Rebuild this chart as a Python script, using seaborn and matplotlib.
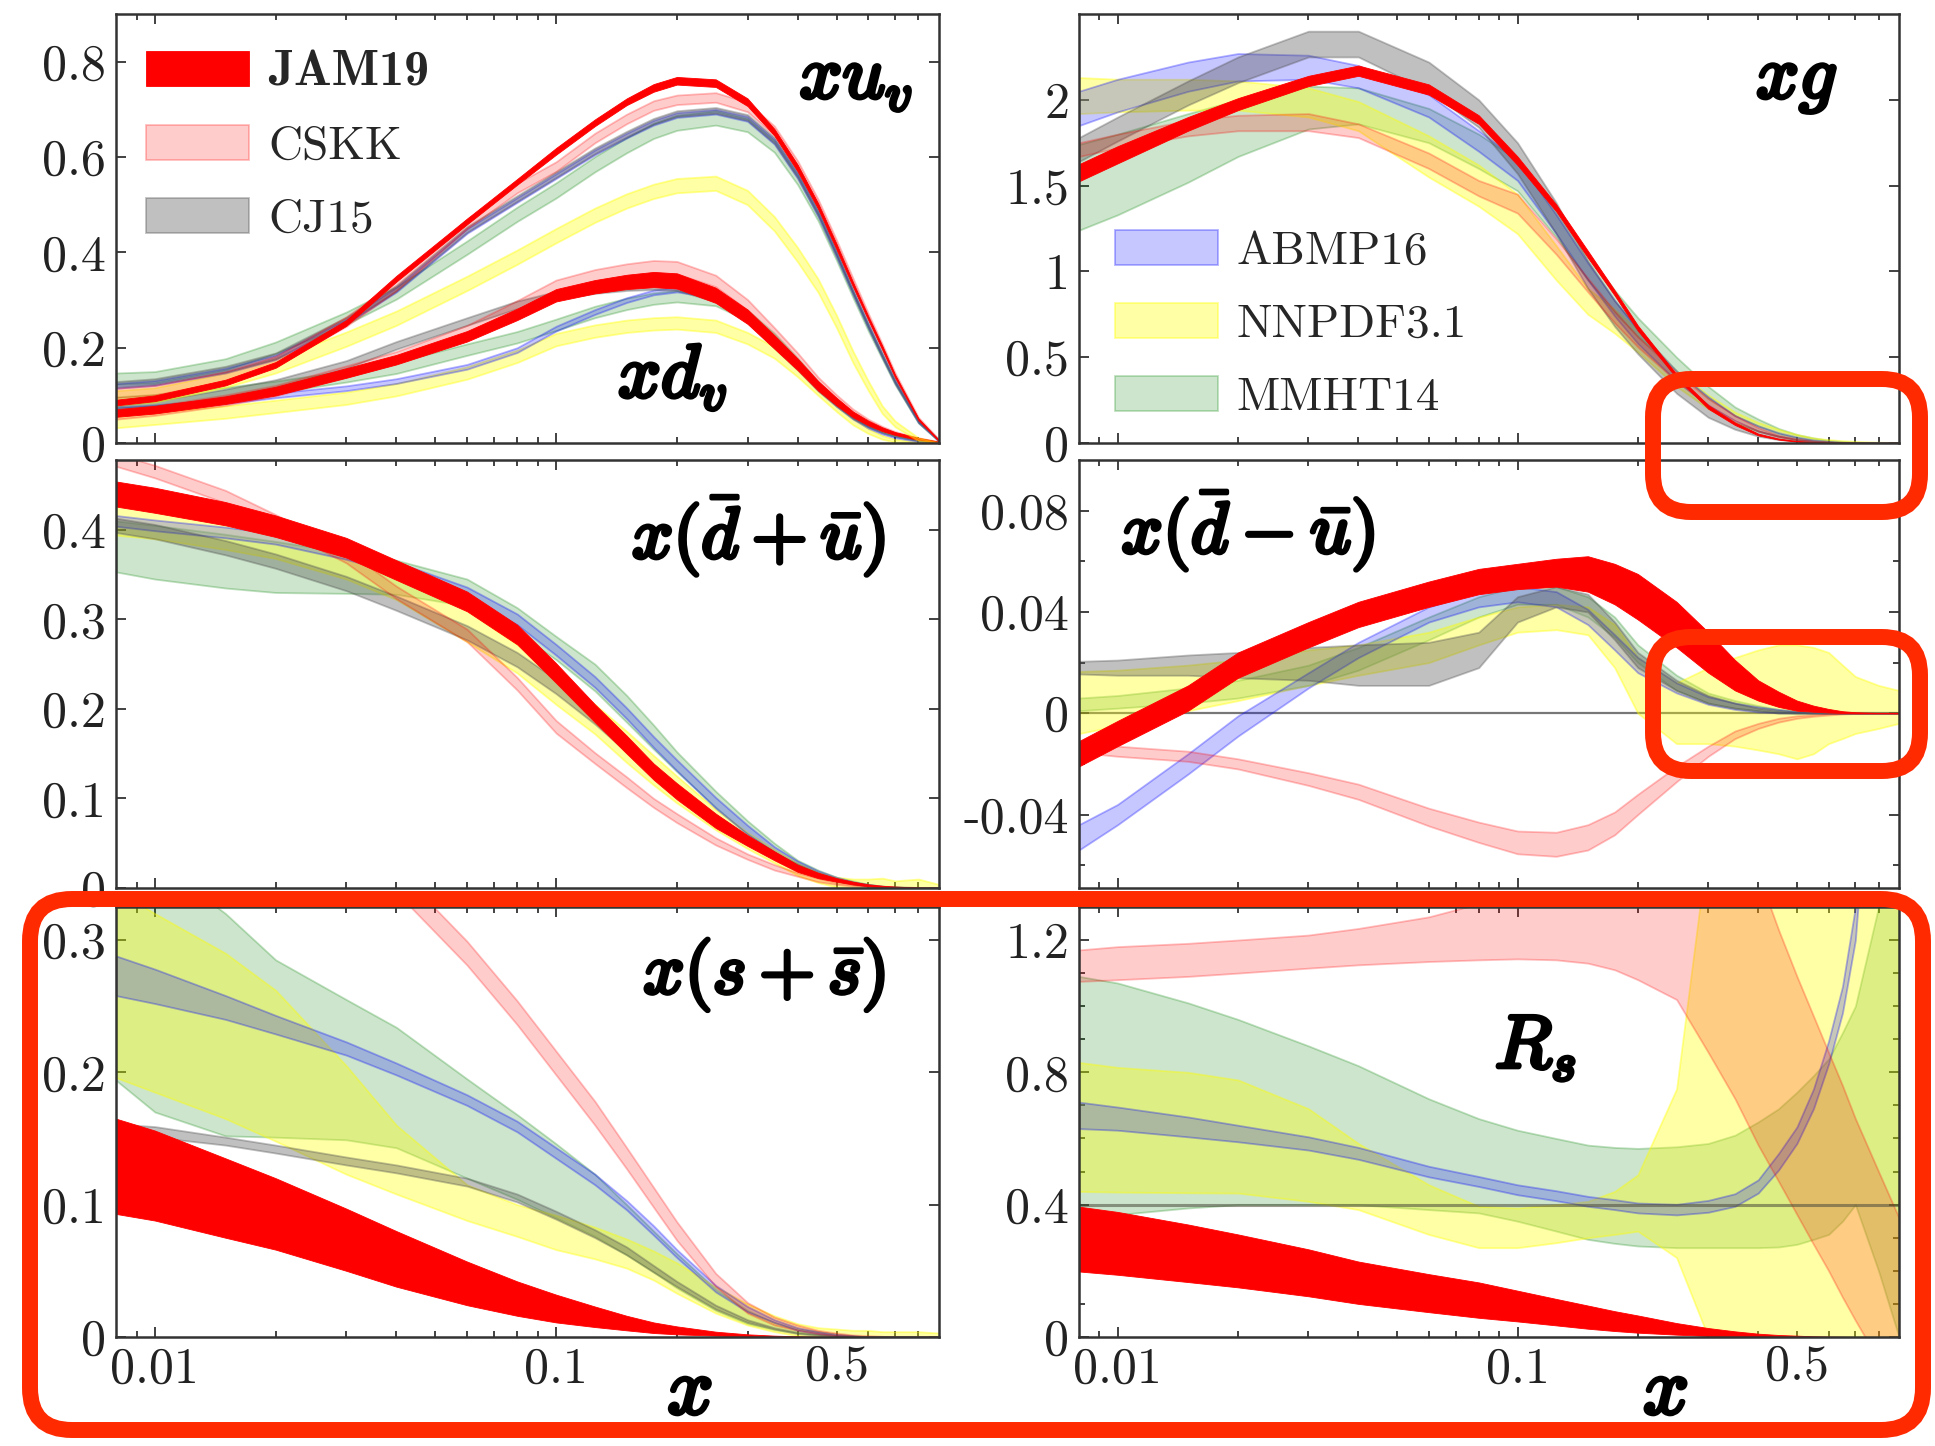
import matplotlib
matplotlib.use("Agg")
import matplotlib.pyplot as plt
import matplotlib.patheffects as pe
from matplotlib.patches import FancyBboxPatch
from matplotlib.ticker import FixedLocator, NullLocator, FuncFormatter
import seaborn as sns

# x grid shared by every panel
X = [0.008, 0.01, 0.015, 0.02, 0.03, 0.04, 0.06, 0.08, 0.1, 0.125, 0.15, 0.175, 0.2,
     0.25, 0.3, 0.35, 0.4, 0.45, 0.5, 0.55, 0.6, 0.65, 0.7, 0.8, 0.9]

# ---- x u_v ----
uv_JAM19_lo = [0.079, 0.088, 0.121, 0.158, 0.246, 0.339, 0.459, 0.542, 0.605, 0.665, 0.709, 0.737, 0.752, 0.747, 0.707, 0.645, 0.57, 0.491, 0.406, 0.327, 0.258, 0.196, 0.137, 0.048, 0.004]
uv_JAM19_hi = [0.091, 0.1, 0.133, 0.17, 0.258, 0.351, 0.471, 0.554, 0.619, 0.679, 0.723, 0.753, 0.768, 0.763, 0.723, 0.659, 0.584, 0.503, 0.418, 0.337, 0.266, 0.204, 0.143, 0.052, 0.006]
uv_CSKK_lo = [0.095, 0.101, 0.13, 0.162, 0.245, 0.32, 0.45, 0.525, 0.57, 0.63, 0.67, 0.698, 0.71, 0.715, 0.695, 0.645, 0.572, 0.493, 0.41, 0.331, 0.26, 0.198, 0.139, 0.05, 0.004]
uv_CSKK_hi = [0.115, 0.121, 0.15, 0.182, 0.265, 0.34, 0.47, 0.545, 0.59, 0.65, 0.69, 0.718, 0.73, 0.735, 0.715, 0.665, 0.592, 0.511, 0.426, 0.345, 0.272, 0.208, 0.147, 0.054, 0.008]
uv_CJ15_lo = [0.117, 0.123, 0.149, 0.177, 0.252, 0.319, 0.442, 0.507, 0.557, 0.607, 0.642, 0.669, 0.685, 0.692, 0.677, 0.629, 0.557, 0.477, 0.392, 0.312, 0.242, 0.18, 0.125, 0.043, 0.004]
uv_CJ15_hi = [0.129, 0.135, 0.161, 0.189, 0.264, 0.331, 0.454, 0.519, 0.569, 0.619, 0.654, 0.681, 0.697, 0.704, 0.689, 0.641, 0.569, 0.489, 0.404, 0.322, 0.252, 0.19, 0.133, 0.049, 0.006]
uv_ABMP16_lo = [0.115, 0.121, 0.147, 0.175, 0.25, 0.317, 0.44, 0.505, 0.555, 0.605, 0.64, 0.667, 0.683, 0.69, 0.675, 0.627, 0.555, 0.475, 0.39, 0.311, 0.241, 0.18, 0.125, 0.043, 0.004]
uv_ABMP16_hi = [0.125, 0.131, 0.157, 0.185, 0.26, 0.327, 0.45, 0.515, 0.565, 0.615, 0.65, 0.677, 0.693, 0.70, 0.685, 0.637, 0.565, 0.485, 0.40, 0.319, 0.249, 0.186, 0.131, 0.047, 0.006]
uv_NNPDF_lo = [0.08, 0.086, 0.117, 0.147, 0.203, 0.247, 0.32, 0.375, 0.42, 0.463, 0.493, 0.513, 0.525, 0.53, 0.5, 0.445, 0.38, 0.316, 0.242, 0.168, 0.11, 0.062, 0.034, 0.005, 0.0]
uv_NNPDF_hi = [0.11, 0.116, 0.147, 0.177, 0.233, 0.277, 0.35, 0.405, 0.45, 0.493, 0.523, 0.543, 0.555, 0.56, 0.53, 0.475, 0.41, 0.344, 0.268, 0.192, 0.13, 0.078, 0.046, 0.011, 0.001]
uv_MMHT14_lo = [0.123, 0.126, 0.153, 0.188, 0.249, 0.302, 0.396, 0.465, 0.514, 0.569, 0.609, 0.639, 0.656, 0.667, 0.653, 0.61, 0.542, 0.466, 0.383, 0.304, 0.235, 0.176, 0.122, 0.042, 0.004]
uv_MMHT14_hi = [0.147, 0.15, 0.177, 0.212, 0.275, 0.328, 0.424, 0.495, 0.546, 0.601, 0.641, 0.671, 0.688, 0.697, 0.681, 0.634, 0.562, 0.482, 0.397, 0.316, 0.245, 0.184, 0.128, 0.046, 0.006]

# ---- x d_v ----
dv_JAM19_lo = [0.055, 0.062, 0.082, 0.1, 0.137, 0.165, 0.213, 0.258, 0.297, 0.314, 0.323, 0.327, 0.324, 0.294, 0.25, 0.198, 0.153, 0.11, 0.079, 0.054, 0.037, 0.025, 0.017, 0.007, 0.001]
dv_JAM19_hi = [0.071, 0.078, 0.098, 0.118, 0.157, 0.185, 0.235, 0.282, 0.323, 0.342, 0.353, 0.359, 0.356, 0.326, 0.28, 0.226, 0.177, 0.13, 0.095, 0.066, 0.047, 0.033, 0.023, 0.011, 0.003]
dv_CSKK_lo = [0.05, 0.058, 0.079, 0.099, 0.138, 0.168, 0.223, 0.275, 0.318, 0.34, 0.352, 0.357, 0.355, 0.328, 0.279, 0.222, 0.171, 0.122, 0.087, 0.059, 0.04, 0.027, 0.018, 0.007, 0.001]
dv_CSKK_hi = [0.07, 0.078, 0.101, 0.121, 0.162, 0.192, 0.247, 0.299, 0.342, 0.364, 0.376, 0.383, 0.381, 0.352, 0.301, 0.242, 0.189, 0.138, 0.101, 0.071, 0.05, 0.035, 0.024, 0.011, 0.003]
dv_CJ15_lo = [0.062, 0.072, 0.097, 0.117, 0.157, 0.197, 0.247, 0.282, 0.302, 0.314, 0.32, 0.322, 0.32, 0.297, 0.253, 0.199, 0.153, 0.109, 0.077, 0.051, 0.034, 0.022, 0.014, 0.005, 0.0]
dv_CJ15_hi = [0.078, 0.088, 0.113, 0.133, 0.173, 0.213, 0.263, 0.298, 0.318, 0.33, 0.336, 0.338, 0.336, 0.313, 0.267, 0.211, 0.163, 0.117, 0.083, 0.057, 0.038, 0.026, 0.018, 0.007, 0.002]
dv_ABMP16_lo = [0.065, 0.07, 0.083, 0.095, 0.11, 0.125, 0.155, 0.19, 0.235, 0.27, 0.295, 0.311, 0.317, 0.305, 0.265, 0.21, 0.158, 0.111, 0.077, 0.05, 0.031, 0.019, 0.011, 0.003, 0.0]
dv_ABMP16_hi = [0.075, 0.08, 0.093, 0.105, 0.12, 0.135, 0.165, 0.2, 0.245, 0.28, 0.305, 0.321, 0.327, 0.315, 0.275, 0.22, 0.166, 0.119, 0.083, 0.054, 0.035, 0.021, 0.013, 0.005, 0.002]
dv_NNPDF_lo = [0.032, 0.039, 0.052, 0.064, 0.081, 0.099, 0.134, 0.169, 0.204, 0.222, 0.232, 0.237, 0.239, 0.232, 0.208, 0.178, 0.139, 0.1, 0.066, 0.038, 0.02, 0.008, 0.002, 0.0, 0.0]
dv_NNPDF_hi = [0.058, 0.065, 0.078, 0.09, 0.107, 0.125, 0.16, 0.195, 0.23, 0.248, 0.258, 0.263, 0.265, 0.258, 0.232, 0.202, 0.161, 0.12, 0.084, 0.052, 0.03, 0.016, 0.008, 0.002, 0.0]
dv_MMHT14_lo = [0.073, 0.078, 0.093, 0.106, 0.128, 0.146, 0.184, 0.21, 0.236, 0.263, 0.28, 0.291, 0.296, 0.288, 0.257, 0.21, 0.162, 0.115, 0.08, 0.053, 0.034, 0.022, 0.014, 0.005, 0.0]
dv_MMHT14_hi = [0.097, 0.102, 0.117, 0.13, 0.152, 0.17, 0.208, 0.234, 0.26, 0.287, 0.304, 0.315, 0.32, 0.312, 0.279, 0.23, 0.178, 0.129, 0.092, 0.063, 0.042, 0.028, 0.018, 0.007, 0.002]

# ---- x g ----
g_JAM19_lo = [1.525, 1.63, 1.82, 1.94, 2.08, 2.14, 2.03, 1.86, 1.62, 1.35, 1.08, 0.86, 0.655, 0.38, 0.2, 0.105, 0.045, 0.02, 0.008, 0.003, 0.001, 0.0, 0.0, 0.0, 0.0]
g_JAM19_hi = [1.625, 1.73, 1.9, 2.01, 2.14, 2.2, 2.09, 1.91, 1.67, 1.39, 1.12, 0.89, 0.685, 0.4, 0.22, 0.12, 0.055, 0.026, 0.012, 0.005, 0.003, 0.0015, 0.001, 0.0, 0.0]
g_CSKK_lo = [1.67, 1.72, 1.79, 1.82, 1.82, 1.78, 1.6, 1.44, 1.34, 1.1, 0.88, 0.7, 0.56, 0.36, 0.22, 0.13, 0.07, 0.035, 0.018, 0.008, 0.004, 0.001, 0.0, 0.0, 0.0]
g_CSKK_hi = [1.75, 1.8, 1.88, 1.91, 1.92, 1.86, 1.69, 1.53, 1.45, 1.19, 0.96, 0.77, 0.62, 0.41, 0.26, 0.16, 0.09, 0.045, 0.025, 0.012, 0.006, 0.003, 0.001, 0.0, 0.0]
g_CJ15_lo = [1.64, 1.76, 1.97, 2.1, 2.25, 2.25, 2.05, 1.84, 1.57, 1.22, 0.9, 0.68, 0.52, 0.29, 0.15, 0.08, 0.04, 0.02, 0.01, 0.004, 0.001, 0.0, 0.0, 0.0, 0.0]
g_CJ15_hi = [1.78, 1.9, 2.11, 2.25, 2.4, 2.4, 2.22, 2.0, 1.75, 1.4, 1.06, 0.83, 0.67, 0.38, 0.22, 0.12, 0.07, 0.04, 0.02, 0.01, 0.005, 0.002, 0.001, 0.0, 0.0]
g_ABMP16_lo = [1.85, 1.93, 2.05, 2.11, 2.12, 2.07, 1.9, 1.7, 1.53, 1.22, 0.95, 0.74, 0.58, 0.36, 0.22, 0.13, 0.07, 0.04, 0.02, 0.01, 0.005, 0.002, 0.001, 0.0, 0.0]
g_ABMP16_hi = [2.05, 2.12, 2.22, 2.27, 2.26, 2.2, 2.03, 1.82, 1.65, 1.33, 1.05, 0.83, 0.66, 0.42, 0.27, 0.16, 0.1, 0.06, 0.035, 0.018, 0.01, 0.005, 0.003, 0.001, 0.0]
g_NNPDF_lo = [1.92, 1.93, 1.94, 1.94, 1.9, 1.82, 1.55, 1.38, 1.22, 0.95, 0.75, 0.64, 0.53, 0.33, 0.2, 0.12, 0.07, 0.04, 0.02, 0.01, 0.005, 0.002, 0.0, 0.0, 0.0]
g_NNPDF_hi = [2.13, 2.12, 2.12, 2.11, 2.07, 1.99, 1.79, 1.62, 1.45, 1.15, 0.9, 0.78, 0.66, 0.42, 0.28, 0.18, 0.12, 0.08, 0.05, 0.03, 0.02, 0.014, 0.01, 0.005, 0.003]
g_MMHT14_lo = [1.24, 1.33, 1.52, 1.67, 1.83, 1.86, 1.75, 1.6, 1.47, 1.2, 0.95, 0.76, 0.62, 0.42, 0.26, 0.16, 0.1, 0.055, 0.03, 0.016, 0.008, 0.004, 0.002, 0.0, 0.0]
g_MMHT14_hi = [1.74, 1.8, 1.92, 2.0, 2.08, 2.07, 1.95, 1.8, 1.65, 1.37, 1.1, 0.89, 0.73, 0.5, 0.33, 0.21, 0.14, 0.085, 0.05, 0.03, 0.016, 0.009, 0.005, 0.001, 0.0]

# ---- x(dbar + ubar) ----
sea_JAM19_lo = [0.426, 0.419, 0.405, 0.392, 0.369, 0.344, 0.309, 0.272, 0.229, 0.185, 0.15, 0.121, 0.099, 0.067, 0.047, 0.031, 0.018, 0.011, 0.007, 0.004, 0.002, 0.001, 0.0005, 0.0, 0.0]
sea_JAM19_hi = [0.454, 0.447, 0.431, 0.416, 0.391, 0.366, 0.331, 0.294, 0.251, 0.205, 0.17, 0.139, 0.117, 0.083, 0.059, 0.041, 0.026, 0.017, 0.011, 0.007, 0.004, 0.0025, 0.0015, 0.0006, 0.0002]
sea_CSKK_lo = [0.471, 0.458, 0.43, 0.403, 0.363, 0.323, 0.275, 0.221, 0.173, 0.139, 0.112, 0.09, 0.073, 0.048, 0.032, 0.02, 0.013, 0.007, 0.004, 0.002, 0.001, 0.0, 0.0, 0.0, 0.0]
sea_CSKK_hi = [0.485, 0.472, 0.444, 0.417, 0.377, 0.337, 0.289, 0.235, 0.187, 0.151, 0.124, 0.1, 0.083, 0.056, 0.038, 0.026, 0.017, 0.011, 0.006, 0.004, 0.002, 0.0015, 0.001, 0.0, 0.0]
sea_CJ15_lo = [0.397, 0.39, 0.372, 0.357, 0.332, 0.31, 0.277, 0.247, 0.217, 0.183, 0.152, 0.127, 0.105, 0.074, 0.051, 0.035, 0.023, 0.013, 0.008, 0.004, 0.002, 0.001, 0.0, 0.0, 0.0]
sea_CJ15_hi = [0.413, 0.406, 0.388, 0.373, 0.348, 0.326, 0.293, 0.263, 0.233, 0.197, 0.164, 0.137, 0.115, 0.082, 0.057, 0.039, 0.027, 0.017, 0.01, 0.006, 0.004, 0.002, 0.0015, 0.0005, 0.0]
sea_ABMP16_lo = [0.404, 0.399, 0.391, 0.384, 0.367, 0.352, 0.324, 0.294, 0.26, 0.224, 0.189, 0.157, 0.131, 0.089, 0.06, 0.04, 0.024, 0.015, 0.009, 0.005, 0.002, 0.001, 0.0, 0.0, 0.0]
sea_ABMP16_hi = [0.416, 0.411, 0.403, 0.396, 0.379, 0.364, 0.336, 0.306, 0.272, 0.236, 0.201, 0.169, 0.143, 0.101, 0.07, 0.046, 0.03, 0.019, 0.012, 0.007, 0.004, 0.002, 0.001, 0.0, 0.0]
sea_NNPDF_lo = [0.394, 0.39, 0.378, 0.368, 0.345, 0.322, 0.275, 0.24, 0.205, 0.172, 0.14, 0.115, 0.095, 0.065, 0.044, 0.028, 0.014, 0.006, 0.001, 0.0, 0.0, 0.0, 0.0, 0.0, 0.0]
sea_NNPDF_hi = [0.432, 0.426, 0.412, 0.4, 0.378, 0.355, 0.31, 0.272, 0.238, 0.205, 0.175, 0.148, 0.125, 0.088, 0.062, 0.043, 0.028, 0.018, 0.012, 0.01, 0.01, 0.011, 0.008, 0.01, 0.004]
sea_MMHT14_lo = [0.353, 0.345, 0.335, 0.33, 0.329, 0.328, 0.315, 0.285, 0.255, 0.22, 0.185, 0.155, 0.13, 0.09, 0.06, 0.04, 0.024, 0.014, 0.008, 0.005, 0.002, 0.001, 0.0, 0.0, 0.0]
sea_MMHT14_hi = [0.41, 0.405, 0.395, 0.387, 0.375, 0.366, 0.345, 0.313, 0.281, 0.25, 0.215, 0.182, 0.152, 0.108, 0.075, 0.05, 0.031, 0.02, 0.012, 0.008, 0.004, 0.002, 0.001, 0.0, 0.0]

# ---- x(dbar - ubar) ----
asym_JAM19_lo = [-0.021, -0.013, 0.001, 0.014, 0.026, 0.034, 0.042, 0.047, 0.049, 0.05, 0.048, 0.043, 0.037, 0.026, 0.016, 0.009, 0.005, 0.0025, 0.001, 0.0006, 0.0003, 0.0001, 0.0, 0.0, 0.0]
asym_JAM19_hi = [-0.011, -0.003, 0.011, 0.024, 0.036, 0.044, 0.052, 0.057, 0.059, 0.061, 0.062, 0.059, 0.055, 0.044, 0.032, 0.021, 0.013, 0.0085, 0.005, 0.003, 0.0017, 0.0008, 0.0004, 0.0001, 0.0]
asym_CSKK_lo = [-0.0155, -0.017, -0.019, -0.022, -0.0285, -0.034, -0.0445, -0.051, -0.0555, -0.0565, -0.054, -0.048, -0.04, -0.027, -0.017, -0.01, -0.006, -0.0035, -0.002, -0.0012, -0.0007, -0.0003, -0.0001, 0.0, 0.0]
asym_CSKK_hi = [-0.0125, -0.013, -0.015, -0.018, -0.0235, -0.028, -0.0375, -0.043, -0.0465, -0.047, -0.044, -0.039, -0.032, -0.021, -0.013, -0.007, -0.004, -0.002, -0.001, -0.0006, -0.0003, -0.0001, -0.0001, 0.0, 0.0]
asym_CJ15_lo = [0.0155, 0.015, 0.015, 0.014, 0.013, 0.011, 0.011, 0.018, 0.036, 0.042, 0.04, 0.029, 0.018, 0.009, 0.004, 0.002, 0.001, 0.0, 0.0, 0.0, 0.0, 0.0, 0.0, 0.0, 0.0]
asym_CJ15_hi = [0.0205, 0.021, 0.023, 0.024, 0.026, 0.027, 0.028, 0.032, 0.046, 0.05, 0.047, 0.036, 0.024, 0.013, 0.007, 0.004, 0.002, 0.001, 0.0005, 0.0, 0.0, 0.0, 0.0, 0.0, 0.0]
asym_ABMP16_lo = [-0.054, -0.044, -0.024, -0.009, 0.01, 0.022, 0.036, 0.042, 0.044, 0.042, 0.035, 0.025, 0.016, 0.008, 0.0035, 0.0015, 0.0005, 0.0002, 0.0001, 0.0, 0.0, 0.0, 0.0, 0.0, 0.0]
asym_ABMP16_hi = [-0.044, -0.036, -0.016, -0.001, 0.016, 0.028, 0.042, 0.048, 0.05, 0.048, 0.041, 0.031, 0.022, 0.012, 0.0065, 0.004, 0.0025, 0.0015, 0.0007, 0.0003, 0.0, 0.0, 0.0, 0.0, 0.0]
asym_NNPDF_lo = [-0.008, -0.005, 0.001, 0.005, 0.011, 0.015, 0.02, 0.027, 0.032, 0.033, 0.031, 0.018, 0.0, -0.012, -0.012, -0.013, -0.0145, -0.016, -0.018, -0.016, -0.012, -0.01, -0.008, -0.006, -0.004]
asym_NNPDF_hi = [0.0165, 0.017, 0.019, 0.021, 0.025, 0.027, 0.032, 0.038, 0.042, 0.043, 0.042, 0.035, 0.022, 0.012, 0.018, 0.022, 0.025, 0.027, 0.027, 0.026, 0.024, 0.019, 0.0145, 0.011, 0.009]
asym_MMHT14_lo = [0.001, 0.002, 0.004, 0.006, 0.011, 0.017, 0.029, 0.038, 0.043, 0.043, 0.038, 0.03, 0.02, 0.009, 0.004, 0.002, 0.001, 0.0005, 0.0, 0.0, 0.0, 0.0, 0.0, 0.0, 0.0]
asym_MMHT14_hi = [0.006, 0.007, 0.01, 0.013, 0.019, 0.026, 0.038, 0.046, 0.05, 0.05, 0.046, 0.038, 0.027, 0.015, 0.008, 0.005, 0.003, 0.0015, 0.001, 0.0005, 0.0, 0.0, 0.0, 0.0, 0.0]

# ---- x(s + sbar) ----
s_JAM19_lo = [0.093, 0.088, 0.075, 0.066, 0.05, 0.038, 0.024, 0.016, 0.011, 0.0075, 0.005, 0.003, 0.002, 0.001, 0.0003, 0.0001, 0.0, 0.0, 0.0, 0.0, 0.0, 0.0, 0.0, 0.0, 0.0]
s_JAM19_hi = [0.165, 0.156, 0.135, 0.12, 0.097, 0.08, 0.057, 0.042, 0.032, 0.023, 0.016, 0.011, 0.008, 0.004, 0.002, 0.001, 0.0005, 0.0002, 0.0001, 0.0, 0.0, 0.0, 0.0, 0.0, 0.0]
s_CSKK_lo = [0.511, 0.491, 0.451, 0.421, 0.376, 0.336, 0.281, 0.236, 0.198, 0.16, 0.127, 0.098, 0.073, 0.038, 0.018, 0.009, 0.005, 0.0025, 0.001, 0.0005, 0.0, 0.0, 0.0, 0.0, 0.0]
s_CSKK_hi = [0.529, 0.509, 0.469, 0.439, 0.394, 0.354, 0.299, 0.254, 0.216, 0.178, 0.143, 0.113, 0.087, 0.048, 0.026, 0.015, 0.009, 0.005, 0.003, 0.0015, 0.001, 0.0005, 0.0, 0.0, 0.0]
s_CJ15_lo = [0.153, 0.151, 0.145, 0.139, 0.130, 0.124, 0.114, 0.102, 0.089, 0.075, 0.062, 0.049, 0.038, 0.021, 0.011, 0.006, 0.0025, 0.0012, 0.0005, 0.0002, 0.0, 0.0, 0.0, 0.0, 0.0]
s_CJ15_hi = [0.161, 0.159, 0.151, 0.145, 0.136, 0.130, 0.120, 0.108, 0.095, 0.081, 0.068, 0.054, 0.042, 0.024, 0.013, 0.007, 0.0035, 0.002, 0.001, 0.0005, 0.0, 0.0, 0.0, 0.0, 0.0]
s_ABMP16_lo = [0.258, 0.252, 0.24, 0.229, 0.213, 0.198, 0.175, 0.155, 0.135, 0.115, 0.096, 0.077, 0.06, 0.034, 0.019, 0.011, 0.005, 0.0025, 0.001, 0.0005, 0.0, 0.0, 0.0, 0.0, 0.0]
s_ABMP16_hi = [0.288, 0.278, 0.258, 0.243, 0.223, 0.207, 0.183, 0.163, 0.143, 0.123, 0.103, 0.084, 0.066, 0.039, 0.023, 0.013, 0.007, 0.004, 0.002, 0.001, 0.0, 0.0, 0.0, 0.0, 0.0]
s_NNPDF_lo = [0.196, 0.185, 0.165, 0.148, 0.123, 0.108, 0.088, 0.076, 0.066, 0.059, 0.052, 0.043, 0.033, 0.018, 0.009, 0.004, 0.001, 0.0, -0.001, 0.0, 0.0, 0.0, 0.0, 0.0, 0.0]
s_NNPDF_hi = [0.338, 0.32, 0.29, 0.262, 0.205, 0.16, 0.115, 0.1, 0.092, 0.083, 0.074, 0.065, 0.056, 0.038, 0.025, 0.016, 0.01, 0.007, 0.006, 0.005, 0.005, 0.004, 0.004, 0.004, 0.003]
s_MMHT14_lo = [0.194, 0.17, 0.152, 0.151, 0.149, 0.143, 0.12, 0.104, 0.09, 0.076, 0.062, 0.049, 0.037, 0.02, 0.01, 0.0055, 0.003, 0.0015, 0.0005, 0.0, 0.0, 0.0, 0.0, 0.0, 0.0]
s_MMHT14_hi = [0.38, 0.36, 0.32, 0.285, 0.255, 0.234, 0.195, 0.168, 0.146, 0.123, 0.1, 0.08, 0.063, 0.036, 0.02, 0.011, 0.006, 0.004, 0.002, 0.001, 0.0, 0.0, 0.0, 0.0, 0.0]

# ---- R_s ----
rs_JAM19_lo = [0.198, 0.188, 0.166, 0.15, 0.123, 0.1, 0.075, 0.058, 0.047, 0.035, 0.025, 0.018, 0.013, 0.007, 0.003, 0.002, 0.001, 0.0005, 0.0, 0.0, 0.0, 0.0, 0.0, 0.0, 0.0]
rs_JAM19_hi = [0.394, 0.378, 0.34, 0.31, 0.265, 0.228, 0.19, 0.165, 0.14, 0.115, 0.095, 0.078, 0.065, 0.042, 0.027, 0.017, 0.01, 0.006, 0.004, 0.002, 0.001, 0.0005, 0.0, 0.0, 0.0]
rs_CSKK_lo = [1.075, 1.08, 1.09, 1.1, 1.115, 1.125, 1.135, 1.14, 1.143, 1.14, 1.13, 1.11, 1.08, 1.02, 0.86, 0.72, 0.58, 0.47, 0.37, 0.28, 0.2, 0.12, 0.05, -0.07, -0.2]
rs_CSKK_hi = [1.17, 1.18, 1.19, 1.2, 1.215, 1.235, 1.27, 1.31, 1.37, 1.47, 1.6, 1.7, 1.8, 1.9, 1.9, 1.7, 1.4, 1.23, 1.09, 0.97, 0.86, 0.76, 0.66, 0.5, 0.36]
rs_CJ15 = [0.4, 0.4, 0.4, 0.4, 0.4, 0.4, 0.4, 0.4, 0.4, 0.4, 0.4, 0.4, 0.4,
           0.4, 0.4, 0.4, 0.4, 0.4, 0.4, 0.4, 0.4, 0.4, 0.4, 0.4, 0.4]
rs_ABMP16_lo = [0.63, 0.625, 0.605, 0.59, 0.565, 0.537, 0.484, 0.455, 0.43, 0.412, 0.395, 0.385, 0.375, 0.369, 0.377, 0.395, 0.435, 0.505, 0.585, 0.69, 0.825, 0.98, 1.2, 2.1, 2.9]
rs_ABMP16_hi = [0.71, 0.695, 0.665, 0.64, 0.605, 0.573, 0.516, 0.485, 0.46, 0.442, 0.425, 0.415, 0.405, 0.401, 0.413, 0.433, 0.475, 0.555, 0.635, 0.75, 0.895, 1.06, 1.3, 2.3, 3.1]
rs_NNPDF_lo = [0.44, 0.438, 0.436, 0.435, 0.41, 0.385, 0.31, 0.27, 0.27, 0.285, 0.3, 0.31, 0.32, 0.24, 0.0, 0.0, 0.0, 0.0, 0.0, 0.0, 0.0, 0.0, 0.0, 0.0, 0.0]
rs_NNPDF_hi = [0.83, 0.815, 0.8, 0.777, 0.69, 0.585, 0.46, 0.395, 0.39, 0.4, 0.41, 0.44, 0.49, 0.75, 1.5, 1.5, 1.5, 1.5, 1.5, 1.5, 1.5, 1.5, 1.5, 1.5, 1.5]
rs_MMHT14_lo = [0.36, 0.37, 0.39, 0.4, 0.4, 0.4, 0.385, 0.375, 0.35, 0.32, 0.295, 0.283, 0.275, 0.27, 0.27, 0.27, 0.27, 0.272, 0.28, 0.295, 0.31, 0.35, 0.4, 0.2, 0.0]
rs_MMHT14_hi = [1.09, 1.07, 1.01, 0.96, 0.88, 0.82, 0.72, 0.66, 0.625, 0.6, 0.58, 0.573, 0.57, 0.575, 0.585, 0.61, 0.65, 0.69, 0.74, 0.79, 0.84, 0.92, 1.0, 1.3, 1.5]

# colours: (rgb, face alpha, edge alpha)
STYLE = {
    "MMHT14": ((0.0, 0.5, 0.0), 0.2, 0.25),
    "NNPDF3.1": ((1.0, 1.0, 0.0), 0.35, 0.4),
    "ABMP16": ((0.0, 0.0, 1.0), 0.22, 0.3),
    "CJ15": ((0.3, 0.3, 0.3), 0.35, 0.35),
    "CSKK": ((1.0, 0.0, 0.0), 0.2, 0.25),
    "JAM19": ((1.0, 0.0, 0.0), 1.0, 1.0),
}

sns.set_theme(style="ticks")
plt.rcParams["font.family"] = "cmr10"
plt.rcParams["mathtext.fontset"] = "cm"
plt.rcParams["axes.unicode_minus"] = False
plt.rcParams["axes.formatter.use_mathtext"] = True

fig = plt.figure(figsize=(19.35, 14.46), dpi=100)
fig.patch.set_facecolor("white")

cols = [(0.05995, 0.4253), (0.5576, 0.4238)]
rows = [(0.6936, 0.2967), (0.3859, 0.2960), (0.0754, 0.2974)]
axes = [[fig.add_axes([c[0], r[0], c[1], r[1]]) for c in cols] for r in rows]
ax_v, ax_g = axes[0]
ax_sea, ax_asym = axes[1]
ax_s, ax_rs = axes[2]

minor_x = [0.009, 0.02, 0.03, 0.04, 0.05, 0.06, 0.07, 0.08, 0.09, 0.2, 0.3, 0.4, 0.5, 0.6, 0.7, 0.8]


def band(ax, lo, hi, name):
    rgb, fa, ea = STYLE[name]
    lw = 0.6 if name == "JAM19" else 1.3
    return ax.fill_between(X, lo, hi, facecolor=rgb + (fa,), edgecolor=rgb + (ea,),
                           linewidth=lw, label=name)


def setup(ax, yticks, ylabels, ylim, yminor=None, bottom=False):
    ax.set_xscale("log")
    ax.set_xlim(0.008, 0.9)
    ax.set_ylim(*ylim)
    ax.xaxis.set_major_locator(FixedLocator([0.01, 0.1]))
    ax.xaxis.set_minor_locator(FixedLocator(minor_x))
    if bottom:
        ax.xaxis.set_major_formatter(FuncFormatter(lambda v, p: "0.01" if v < 0.05 else "0.1"))
        ax.xaxis.set_minor_formatter(FuncFormatter(lambda v, p: "0.5" if abs(v - 0.5) < 1e-6 else ""))
    else:
        ax.xaxis.set_major_formatter(FuncFormatter(lambda v, p: ""))
        ax.xaxis.set_minor_formatter(FuncFormatter(lambda v, p: ""))
    ax.yaxis.set_major_locator(FixedLocator(yticks))
    ax.set_yticklabels(ylabels)
    if yminor:
        ax.yaxis.set_minor_locator(FixedLocator(yminor))
    else:
        ax.yaxis.set_minor_locator(NullLocator())
    ax.tick_params(which="both", direction="in", top=True, right=True,
                   width=1.3, color="#333333", labelcolor="#222222")
    ax.tick_params(which="major", length=7, labelsize=36, pad=7)
    ax.tick_params(which="minor", length=4.5, labelsize=36, pad=5)
    for s in ax.spines.values():
        s.set_linewidth(1.8)
        s.set_color("#333333")
    ax.set_facecolor("white")
    ax.grid(False)


def label(ax, x, y, s, ha, size=54, va="baseline"):
    t = ax.text(x, y, s, transform=ax.transAxes, ha=ha, va=va, fontsize=size, color="black",
                zorder=20)
    t.set_path_effects([pe.withStroke(linewidth=3, foreground="black")])


order = ["MMHT14", "NNPDF3.1", "ABMP16", "CJ15", "CSKK", "JAM19"]

# valence panel
uv = {"MMHT14": (uv_MMHT14_lo, uv_MMHT14_hi), "NNPDF3.1": (uv_NNPDF_lo, uv_NNPDF_hi),
      "ABMP16": (uv_ABMP16_lo, uv_ABMP16_hi), "CJ15": (uv_CJ15_lo, uv_CJ15_hi),
      "CSKK": (uv_CSKK_lo, uv_CSKK_hi), "JAM19": (uv_JAM19_lo, uv_JAM19_hi)}
dv = {"MMHT14": (dv_MMHT14_lo, dv_MMHT14_hi), "NNPDF3.1": (dv_NNPDF_lo, dv_NNPDF_hi),
      "ABMP16": (dv_ABMP16_lo, dv_ABMP16_hi), "CJ15": (dv_CJ15_lo, dv_CJ15_hi),
      "CSKK": (dv_CSKK_lo, dv_CSKK_hi), "JAM19": (dv_JAM19_lo, dv_JAM19_hi)}
handles = {}
for name in order:
    band(ax_v, *dv[name], name)
for name in order:
    handles[name] = band(ax_v, *uv[name], name)

panels = [
    (ax_g, {"MMHT14": (g_MMHT14_lo, g_MMHT14_hi), "NNPDF3.1": (g_NNPDF_lo, g_NNPDF_hi),
            "ABMP16": (g_ABMP16_lo, g_ABMP16_hi), "CJ15": (g_CJ15_lo, g_CJ15_hi),
            "CSKK": (g_CSKK_lo, g_CSKK_hi), "JAM19": (g_JAM19_lo, g_JAM19_hi)}),
    (ax_sea, {"MMHT14": (sea_MMHT14_lo, sea_MMHT14_hi), "NNPDF3.1": (sea_NNPDF_lo, sea_NNPDF_hi),
              "ABMP16": (sea_ABMP16_lo, sea_ABMP16_hi), "CJ15": (sea_CJ15_lo, sea_CJ15_hi),
              "CSKK": (sea_CSKK_lo, sea_CSKK_hi), "JAM19": (sea_JAM19_lo, sea_JAM19_hi)}),
    (ax_asym, {"MMHT14": (asym_MMHT14_lo, asym_MMHT14_hi), "NNPDF3.1": (asym_NNPDF_lo, asym_NNPDF_hi),
               "ABMP16": (asym_ABMP16_lo, asym_ABMP16_hi), "CJ15": (asym_CJ15_lo, asym_CJ15_hi),
               "CSKK": (asym_CSKK_lo, asym_CSKK_hi), "JAM19": (asym_JAM19_lo, asym_JAM19_hi)}),
    (ax_s, {"MMHT14": (s_MMHT14_lo, s_MMHT14_hi), "NNPDF3.1": (s_NNPDF_lo, s_NNPDF_hi),
            "ABMP16": (s_ABMP16_lo, s_ABMP16_hi), "CJ15": (s_CJ15_lo, s_CJ15_hi),
            "CSKK": (s_CSKK_lo, s_CSKK_hi), "JAM19": (s_JAM19_lo, s_JAM19_hi)}),
    (ax_rs, {"MMHT14": (rs_MMHT14_lo, rs_MMHT14_hi), "NNPDF3.1": (rs_NNPDF_lo, rs_NNPDF_hi),
             "ABMP16": (rs_ABMP16_lo, rs_ABMP16_hi),
             "CSKK": (rs_CSKK_lo, rs_CSKK_hi), "JAM19": (rs_JAM19_lo, rs_JAM19_hi)}),
]
for ax, data in panels:
    for name in order:
        if name in data:
            h = band(ax, *data[name], name)
            if ax is ax_g:
                handles[name + "_g"] = h

# reference lines
ax_asym.axhline(0.0, color="#555555", lw=1.6, alpha=0.8, zorder=0.5)
sns.lineplot(x=X, y=rs_CJ15, ax=ax_rs, color="#4a4a3a", lw=2.2, alpha=0.55, zorder=1.5,
             legend=False)

setup(ax_v, [0, 0.2, 0.4, 0.6, 0.8], ["0", "0.2", "0.4", "0.6", "0.8"], (0, 0.9))
setup(ax_g, [0, 0.5, 1, 1.5, 2], ["0", "0.5", "1", "1.5", "2"], (0, 2.5))
setup(ax_sea, [0, 0.1, 0.2, 0.3, 0.4], ["0", "0.1", "0.2", "0.3", "0.4"], (0, 0.478))
setup(ax_asym, [-0.04, 0, 0.04, 0.08], ["-0.04", "0", "0.04", "0.08"], (-0.069, 0.1),
      yminor=[-0.06, -0.02, 0.02, 0.06])
setup(ax_s, [0, 0.1, 0.2, 0.3], ["0", "0.1", "0.2", "0.3"], (0, 0.325), bottom=True)
setup(ax_rs, [0, 0.4, 0.8, 1.2], ["0", "0.4", "0.8", "1.2"], (0, 1.3),
      yminor=[0.1, 0.2, 0.3, 0.5, 0.6, 0.7, 0.9, 1.0, 1.1], bottom=True)
for ax in (ax_s, ax_rs):
    ax.set_xlabel("")
    ax.set_ylabel("")

# legends
leg_kw = dict(loc="upper left", frameon=False, borderpad=0, borderaxespad=0,
              handlelength=2.18, handleheight=0.78, handletextpad=0.4, labelspacing=0.63,
              prop={"family": "cmr10", "size": 34})
leg1 = ax_v.legend([handles["JAM19"], handles["CSKK"], handles["CJ15"]],
                   ["JAM19", "CSKK", "CJ15"], bbox_to_anchor=(0.037, 0.916), **leg_kw)
leg1.get_texts()[0].set_fontfamily("cmb10")
leg1.get_texts()[0].set_fontsize(36)
ax_g.legend([handles["ABMP16_g"], handles["NNPDF3.1_g"], handles["MMHT14_g"]],
            ["ABMP16", "NNPDF3.1", "MMHT14"], bbox_to_anchor=(0.044, 0.497), **leg_kw)

# panel labels
label(ax_v, 0.967, 0.804, r"$xu_v$", "right")
label(ax_v, 0.676, 0.107, r"$xd_v$", "center")
label(ax_g, 0.924, 0.804, r"$xg$", "right")
label(ax_sea, 0.934, 0.771, r"$x(\bar{d}+\bar{u})$", "right", size=52)
label(ax_asym, 0.052, 0.783, r"$x(\bar{d}-\bar{u})$", "left", size=52)
label(ax_s, 0.934, 0.80, r"$x(s+\bar{s})$", "right", size=52)
label(ax_rs, 0.507, 0.626, r"$R_s$", "left")
label(ax_s, 0.697, -0.133, r"$x$", "center", size=58, va="center")
label(ax_rs, 0.715, -0.133, r"$x$", "center", size=58, va="center")


# red highlight boxes (pixel coords of the figure, y from top)
def red_box(x0, y0, x1, y1, r=0.38):
    H = 14.46
    box = FancyBboxPatch((x0 / 100, H - y1 / 100), (x1 - x0) / 100, (y1 - y0) / 100,
                         boxstyle="round,pad=0,rounding_size=%g" % r,
                         transform=fig.dpi_scale_trans, fill=False,
                         edgecolor="#ff2a00", linewidth=11.5, zorder=30)
    fig.add_artist(box)


red_box(1653, 379, 1920, 512)
red_box(1653, 637, 1920, 771)
red_box(30, 899, 1923, 1430, r=0.42)

fig.savefig("out.png", dpi=100, facecolor="white")
